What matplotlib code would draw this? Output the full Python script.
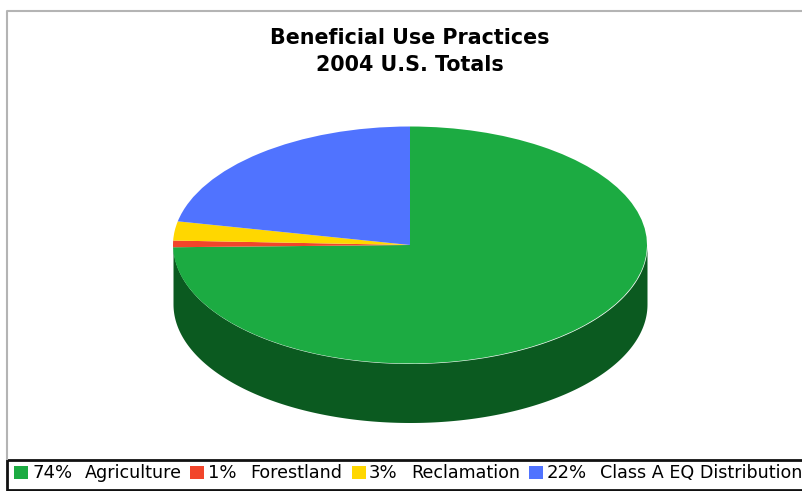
import numpy as np
from matplotlib import pyplot as plt
from matplotlib.patches import Rectangle

# wedge sizes, they differ a bit from the printed percents
names = ["Agriculture", "Forestland", "Reclamation", "Class A EQ Distribution"]
percent_labels = ["74%", "1%", "3%", "22%"]
wedge_sizes = [74.7, 0.9, 2.6, 21.8]
colors = ["#1CAB42", "#F2452B", "#FFD700", "#5073FF"]
side_color = "#0B5A20"
title_lines = ["Beneficial Use Practices", "2004 U.S. Totals"]

W, H = 803, 491
fig = plt.figure(figsize=(W / 100, H / 100), dpi=100)

# background in pixel coordinates
bg = fig.add_axes([0, 0, 1, 1])
bg.set_xlim(0, W)
bg.set_ylim(H, 0)
bg.axis("off")
bg.plot([7.5, 7.5, W], [459, 11, 11], color="#b4b4b4", lw=1.5)
bg.add_patch(Rectangle((7, 459.5), W, 30.5, fc="white", ec="#111111", lw=2))
bg.text(410, 38, title_lines[0], ha="center", va="center", fontsize=14.9, fontweight="bold",
        family="DejaVu Sans", color="black")
bg.text(410, 65, title_lines[1], ha="center", va="center", fontsize=14.9, fontweight="bold",
        family="DejaVu Sans", color="black")

swatch_x = [14, 190, 352, 529]
percent_x = [32, 208, 369, 547]
name_x = [85, 250, 411, 600]
for i in range(len(names)):
    bg.add_patch(Rectangle((swatch_x[i], 466), 14, 13, fc=colors[i], ec="none"))
    bg.text(percent_x[i], 473, percent_labels[i], ha="left", va="center",
            fontsize=13, family="DejaVu Sans", color="black")
    bg.text(name_x[i], 473, names[i], ha="left", va="center",
            fontsize=12.6, family="DejaVu Sans", color="black")

# the pie, squashed to an ellipse by its axes
cx, cy, rx, ry, depth = 410, 245, 237, 118.5, 59
ax = fig.add_axes([(cx - rx) / W, 1 - (cy + ry) / H, 2 * rx / W, 2 * ry / H])
t = np.linspace(np.pi, 2 * np.pi, 200)
d = depth / ry
ax.fill_between(np.cos(t), np.sin(t) - d, np.sin(t), color=side_color, lw=0, clip_on=False)
ax.pie(wedge_sizes, colors=colors, startangle=90, counterclock=False, radius=1,
       wedgeprops={"lw": 0})
ax.set_aspect("auto")
ax.set_xlim(-1, 1)
ax.set_ylim(-1, 1)
ax.axis("off")

plt.savefig("out.png", dpi=100)
plt.close()
